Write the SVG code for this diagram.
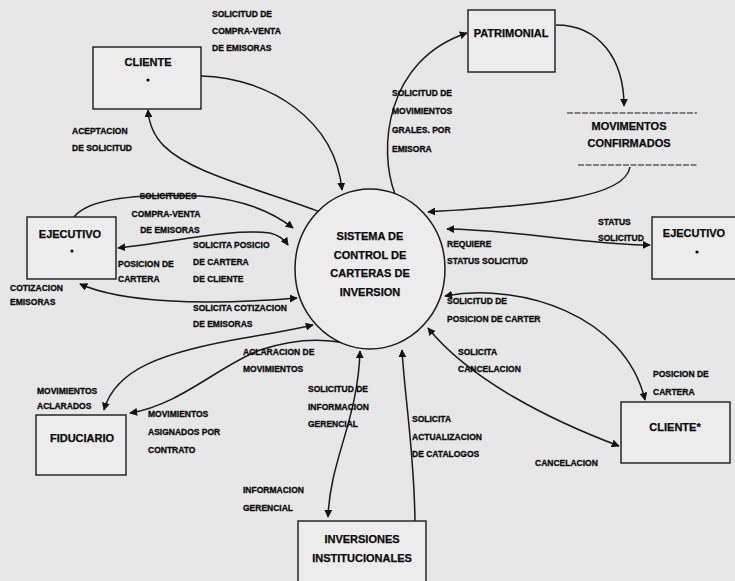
<svg xmlns="http://www.w3.org/2000/svg" width="735" height="581" viewBox="0 0 735 581">
  <defs>
    <marker id="ah" viewBox="0 0 10 10" refX="9" refY="5" markerWidth="8" markerHeight="8" markerUnits="userSpaceOnUse" orient="auto-start-reverse">
      <path d="M0,0 L10,5 L0,10 z" fill="#111"/>
    </marker>
    <style>
      .box { fill: #ececec; stroke: #1a1a1a; stroke-width: 1.4; }
      .store { stroke: #1a1a1a; stroke-width: 1; stroke-dasharray: 6 1.5; }
      .flow { fill: none; stroke: #1a1a1a; stroke-width: 1.5; }
      .name { font-family: "Liberation Sans", Arial, sans-serif; font-weight: bold; font-size: 11px; fill: #0a0a0a; stroke: #0a0a0a; stroke-width: 0.25; text-anchor: middle; }
      .lbl { font-family: "Liberation Sans", Arial, sans-serif; font-weight: bold; font-size: 8.5px; fill: #0a0a0a; stroke: #0a0a0a; stroke-width: 0.3; }
      .mid { text-anchor: middle; }
      .dot { fill: #0a0a0a; }
    </style>
  </defs>

  <rect x="0" y="0" width="735" height="581" fill="#e7e7e7"/>

  <!-- data flows -->
  <g id="connectors">
    <!-- CLIENTE -> sistema -->
    <path class="flow" d="M201,76 C270,78 335,120 342,190" marker-end="url(#ah)"/>
    <!-- sistema -> CLIENTE -->
    <path class="flow" d="M320,212 C290,200 240,186 205,171 C170,156 150,140 148,110" marker-end="url(#ah)"/>
    <!-- sistema -> PATRIMONIAL -->
    <path class="flow" d="M395,194 C378,150 385,60 467,33" marker-end="url(#ah)"/>
    <!-- PATRIMONIAL -> movimientos confirmados -->
    <path class="flow" d="M556,25 C600,25 624,60 624,106" marker-end="url(#ah)"/>
    <!-- movimientos confirmados -> sistema -->
    <path class="flow" d="M630,167 C625,200 530,205 428,212" marker-end="url(#ah)"/>
    <!-- EJECUTIVO -> sistema -->
    <path class="flow" d="M74,217 C90,196 150,194 200,196 C240,199 270,210 293,228" marker-end="url(#ah)"/>
    <!-- posicion de cartera <-> EJECUTIVO -->
    <path class="flow" d="M118,248 C170,243 230,228 270,233 Q282,236 288,245" marker-start="url(#ah)" marker-end="url(#ah)"/>
    <!-- cotizacion de emisoras -->
    <path class="flow" d="M80,284 C120,302 200,306 297,298" marker-start="url(#ah)" marker-end="url(#ah)"/>
    <!-- FIDUCIARIO <-> sistema -->
    <path class="flow" d="M104,410 C115,370 160,352 250,337 C280,332 300,328 313,325" marker-start="url(#ah)" marker-end="url(#ah)"/>
    <!-- movimientos asignados -> FIDUCIARIO -->
    <path class="flow" d="M345,343 C320,338 290,340 260,350 C220,365 180,405 130,413" marker-end="url(#ah)"/>
    <!-- INVERSIONES <-> sistema -->
    <path class="flow" d="M360,351 C358,420 330,460 328,517" marker-start="url(#ah)" marker-end="url(#ah)"/>
    <!-- actualizacion de catalogos -->
    <path class="flow" d="M415,521 C414,450 405,400 402,350" marker-end="url(#ah)"/>
    <!-- cancelacion -->
    <path class="flow" d="M428,328 C470,380 550,420 619,446" marker-start="url(#ah)" marker-end="url(#ah)"/>
    <!-- posicion de cartera <-> CLIENTE* -->
    <path class="flow" d="M445,296 C520,282 625,315 645,400" marker-start="url(#ah)" marker-end="url(#ah)"/>
    <!-- status solicitud <-> EJECUTIVO -->
    <path class="flow" d="M447,229 C520,230 580,244 650,245" marker-start="url(#ah)" marker-end="url(#ah)"/>
  </g>

  <!-- central process -->
  <g id="sistema">
    <ellipse cx="370" cy="269" rx="75" ry="80" fill="#ececec" stroke="#1a1a1a" stroke-width="1.5"/>
    <text class="name" x="370" y="240">SISTEMA DE</text>
    <text class="name" x="370" y="259">CONTROL DE</text>
    <text class="name" x="370" y="277">CARTERAS DE</text>
    <text class="name" x="370" y="296">INVERSION</text>
  </g>

  <g id="cliente">
    <rect class="box" x="93" y="47" width="108" height="62"/>
    <text class="name" x="148" y="66">CLIENTE</text>
    <circle class="dot" cx="148" cy="80" r="1.6"/>
  </g>

  <g id="patrimonial">
    <rect class="box" x="468" y="10" width="87" height="62"/>
    <text class="name" x="511" y="37">PATRIMONIAL</text>
  </g>

  <g id="movimentos-confirmados">
    <line class="store" x1="567" y1="113" x2="697" y2="113"/>
    <line class="store" x1="578" y1="165" x2="697" y2="165"/>
    <text class="name" x="629" y="130">MOVIMENTOS</text>
    <text class="name" x="629" y="147">CONFIRMADOS</text>
  </g>

  <g id="ejecutivo-izq">
    <rect class="box" x="27" y="217" width="89" height="62"/>
    <text class="name" x="70" y="238">EJECUTIVO</text>
    <circle class="dot" cx="72" cy="251" r="1.6"/>
  </g>

  <g id="ejecutivo-der">
    <rect class="box" x="652" y="217" width="100" height="62"/>
    <text class="name" x="694" y="237">EJECUTIVO</text>
    <circle class="dot" cx="697" cy="252" r="1.6"/>
  </g>

  <g id="fiduciario">
    <rect class="box" x="36" y="415" width="90" height="60"/>
    <text class="name" x="82" y="442">FIDUCIARIO</text>
  </g>

  <g id="cliente-2">
    <rect class="box" x="621" y="402" width="109" height="61"/>
    <text class="name" x="675" y="431">CLIENTE*</text>
  </g>

  <g id="inversiones">
    <rect class="box" x="298" y="521" width="128" height="70"/>
    <text class="name" x="362" y="543">INVERSIONES</text>
    <text class="name" x="362" y="562">INSTITUCIONALES</text>
  </g>

  <!-- flow labels -->
  <g id="labels">
    <text class="lbl" x="212" y="17">SOLICITUD DE</text>
    <text class="lbl" x="212" y="34">COMPRA-VENTA</text>
    <text class="lbl" x="212" y="51">DE EMISORAS</text>

    <text class="lbl" x="72" y="134">ACEPTACION</text>
    <text class="lbl" x="72" y="151">DE SOLICITUD</text>

    <text class="lbl" x="392" y="96">SOLICITUD DE</text>
    <text class="lbl" x="392" y="114">MOVIMIENTOS</text>
    <text class="lbl" x="392" y="133">GRALES. POR</text>
    <text class="lbl" x="392" y="152">EMISORA</text>

    <text class="lbl mid" x="168" y="199">SOLICITUDES</text>
    <text class="lbl mid" x="166" y="217">COMPRA-VENTA</text>
    <text class="lbl mid" x="170" y="233">DE EMISORAS</text>

    <text class="lbl" x="193" y="248">SOLICITA POSICIO</text>
    <text class="lbl" x="193" y="265">DE CARTERA</text>
    <text class="lbl" x="193" y="282">DE CLIENTE</text>

    <text class="lbl" x="118" y="267">POSICION DE</text>
    <text class="lbl" x="118" y="282">CARTERA</text>

    <text class="lbl" x="10" y="291">COTIZACION</text>
    <text class="lbl" x="10" y="305">EMISORAS</text>

    <text class="lbl" x="193" y="311">SOLICITA COTIZACION</text>
    <text class="lbl" x="193" y="327">DE EMISORAS</text>

    <text class="lbl" x="447" y="247">REQUIERE</text>
    <text class="lbl" x="447" y="264">STATUS SOLICITUD</text>

    <text class="lbl" x="598" y="225">STATUS</text>
    <text class="lbl" x="598" y="241">SOLICITUD</text>

    <text class="lbl" x="447" y="304">SOLICITUD DE</text>
    <text class="lbl" x="447" y="322">POSICION DE CARTER</text>

    <text class="lbl" x="458" y="355">SOLICITA</text>
    <text class="lbl" x="458" y="372">CANCELACION</text>

    <text class="lbl" x="653" y="377">POSICION DE</text>
    <text class="lbl" x="653" y="395">CARTERA</text>

    <text class="lbl" x="535" y="466">CANCELACION</text>

    <text class="lbl" x="412" y="422">SOLICITA</text>
    <text class="lbl" x="412" y="440">ACTUALIZACION</text>
    <text class="lbl" x="412" y="457">DE CATALOGOS</text>

    <text class="lbl" x="243" y="355">ACLARACION DE</text>
    <text class="lbl" x="243" y="372">MOVIMIENTOS</text>

    <text class="lbl" x="37" y="394">MOVIMIENTOS</text>
    <text class="lbl" x="37" y="409">ACLARADOS</text>

    <text class="lbl" x="148" y="417">MOVIMIENTOS</text>
    <text class="lbl" x="148" y="435">ASIGNADOS POR</text>
    <text class="lbl" x="148" y="453">CONTRATO</text>

    <text class="lbl" x="308" y="392">SOLICITUD DE</text>
    <text class="lbl" x="308" y="410">INFORMACION</text>
    <text class="lbl" x="308" y="427">GERENCIAL</text>

    <text class="lbl" x="243" y="493">INFORMACION</text>
    <text class="lbl" x="243" y="511">GERENCIAL</text>
  </g>
</svg>
